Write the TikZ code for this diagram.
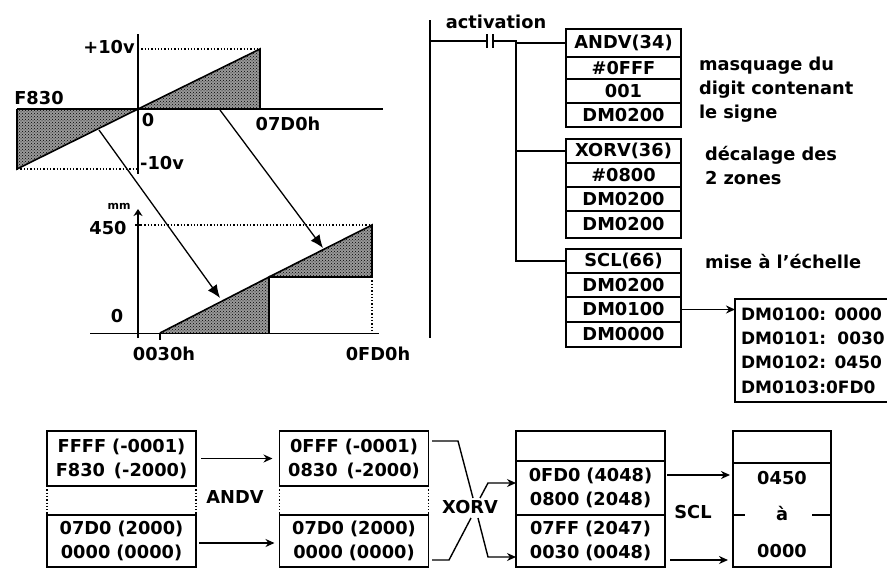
\documentclass[tikz,border=0pt]{standalone}
\usepackage{fontspec}
\setmainfont{DejaVu Sans}
\usepackage{tikz}
\usetikzlibrary{arrows.meta, positioning, patterns}
\newcommand{\nudge}{\hspace*{18pt}}

\begin{document}
\begin{tikzpicture}[
    x=1pt, y=-1pt,
    every node/.style={font=\fontsize{17.8}{24}\selectfont\bfseries, inner sep=0pt, outer sep=0pt},
    cell/.style={rectangle, draw=black, line width=1.6pt, minimum width=115pt, text width=115pt, text centered},
    widebox/.style={rectangle, draw=black, line width=1.6pt, minimum width=149pt, text width=149pt, text centered},
    axis/.style={line width=1.6pt},
    rail/.style={line width=1.6pt},
    guide/.style={dotted, line width=1.3pt},
    hatch/.style={fill=black!40, postaction={pattern=crosshatch dots, pattern color=black}},
    outline/.style={draw=black, line width=1.6pt},
    thinarrow/.style={-{Stealth[length=9pt, width=8pt]}, line width=1.7pt},
    bigarrow/.style={-{Latex[length=13pt, width=11pt]}, line width=1.3pt},
    wire/.style={line width=1.4pt}
]
\useasboundingbox (0,0) rectangle (887,568);

\coordinate (origin) at (138,109);
\coordinate (peak) at (260,49);
\coordinate (peakbase) at (260,109);
\coordinate (trough) at (17,169);
\coordinate (troughbase) at (17,109);
\coordinate (start) at (160,333);
\coordinate (mid) at (269,277);
\coordinate (midbase) at (269,333);
\coordinate (top) at (372,225);
\coordinate (topbase) at (372,277);
\coordinate (endbase) at (372,333);
\coordinate (srca) at (220,110);
\coordinate (dsta) at (323,248);
\coordinate (srcb) at (99,130);
\coordinate (dstb) at (220,298);

\fill [hatch] (origin) -- (peak) -- (peakbase) -- cycle;
\fill [hatch] (origin) -- (troughbase) -- (trough) -- cycle;
\fill [hatch] (start) -- (mid) -- (midbase) -- cycle;
\fill [hatch] (mid) -- (top) -- (topbase) -- cycle;
\draw [outline] (origin) -- (peak) -- (peakbase);
\draw [outline] (origin) -- (trough) -- (troughbase);
\draw [outline] (start) -- (mid) -- (midbase);
\draw [outline] (mid) -- (top) -- (topbase) -- (mid);

\draw [axis] (138,34) -- (138,174);
\draw [axis] (17,109) -- (383,109);
\draw [guide] (origin |- peak) -- (peak);
\draw [guide] (trough) -- (origin |- trough);
\draw [axis, -{Stealth[length=7pt, width=9pt]}] (138,338) -- (138,209);
\draw [axis] (90,333.5) -- (379,333.5);
\draw [axis] (160,333) -- (160,340);
\draw [axis] (135,225) -- (141,225);
\draw [guide] (141,225) -- (top);
\draw [guide] (topbase) -- (endbase);
\draw [bigarrow] (srca) -- (dsta);
\draw [bigarrow] (srcb) -- (dstb);

\node (plusten) at (109,47) {+10v};
\node (fhex) at (39,98) {F830};
\node (zeroa) at (148,120) {0};
\node (sevenhex) at (288,124) {07D0h};
\node (minusten) at (162,163) {-10v};
\node (mmunit) [font=\fontsize{11}{12}\selectfont\bfseries] at (119,206) {mm};
\node (fourfifty) at (108,228) {450};
\node (zerob) at (117,316) {0};
\node (lowhex) at (164,354) {0030h};
\node (highhex) at (378,354) {0FD0h};

\node (activ) at (496,22) {activation};

\node (and1) [cell, minimum height=28.5pt] at (623.5,43) {ANDV(34)};
\node (and2) [cell, minimum height=22pt, below=0pt of and1] {\#0FFF\hspace*{6pt}};
\node (and3) [cell, minimum height=23.5pt, below=0pt of and2] {001\nudge};
\node (and4) [cell, minimum height=24pt, below=0pt of and3] {DM0200\nudge};

\node (xor1) [cell, minimum height=24pt] at (623.5,151) {XORV(36)};
\node (xor2) [cell, minimum height=24pt, below=0pt of xor1] {\#0800\hspace*{10pt}};
\node (xor3) [cell, minimum height=24pt, below=0pt of xor2] {DM0200\nudge};
\node (xor4) [cell, minimum height=27pt, below=0pt of xor3] {DM0200\nudge};

\node (scl1) [cell, minimum height=24pt] at (623.5,261) {SCL(66)};
\node (scl2) [cell, minimum height=24pt, below=0pt of scl1] {DM0200};
\node (scl3) [cell, minimum height=25pt, below=0pt of scl2] {DM0100};
\node (scl4) [cell, minimum height=25pt, below=0pt of scl3] {DM0000};

\node (maskdesc) [anchor=west, align=left] at (699,90) {masquage du\\digit contenant\\le signe};
\node (shiftdesc) [anchor=west, align=left] at (705,166) {décalage des\\2 zones};
\node (scaledesc) [anchor=west] at (705,262) {mise à l'échelle};

\node (dmlist) [rectangle, anchor=north west, minimum height=103pt, text width=152pt, align=left, font=\fontsize{17}{24.4}\selectfont\bfseries] at (735,299) {\hspace*{6pt}DM0100: 0000\\\hspace*{6pt}DM0101: \,0030\\\hspace*{6pt}DM0102: 0450\\\hspace*{6pt}DM0103:0FD0};
\draw [rail] (dmlist.north east) -- (dmlist.north west) -- (dmlist.south west) -- (dmlist.south east);

\coordinate (railtop) at (430,20);
\coordinate (railend) at (430,338);
\coordinate (contacta) at (487,41);
\coordinate (contactb) at (493,41);
\coordinate (branch) at (516,41);
\draw [rail] (railtop) -- (railend);
\draw [rail] (railtop |- contacta) -- (contacta);
\draw [rail] (487,34) -- (487,48);
\draw [rail] (493,34) -- (493,48);
\draw [rail] (contactb) -- (branch) -- (branch |- and1.west) -- (and1.west);
\draw [rail] (branch) |- (xor1.west);
\draw [rail] (branch) |- (scl1.west);
\draw [thinarrow] (scl3.east) -- (scl3.east -| dmlist.west);

\node (atop) [widebox, minimum height=55pt] at (121.5,458.5) {FFFF (-0001)\\F830 \,(-2000)};
\node (alow) [widebox, minimum height=52pt] at (121.5,541) {07D0 (2000)\\0000 (0000)};
\node (btop) [widebox, minimum height=55pt] at (354,458.5) {0FFF (-0001)\\0830 \,(-2000)};
\node (blow) [widebox, minimum height=52pt] at (354,541) {07D0 (2000)\\0000 (0000)};
\node (chead) [widebox, minimum height=30pt] at (590.5,446) {};
\node (ctop) [widebox, minimum height=54pt, below=0pt of chead] {0FD0 (4048)\\0800 (2048)};
\node (clow) [widebox, minimum height=52pt, below=0pt of ctop] {07FF (2047)\\0030 (0048)};
\node (dhead) [rectangle, draw=black, line width=1.6pt, minimum width=98pt, minimum height=32pt] at (782,447) {};
\node (dlow) [rectangle, draw=black, line width=1.6pt, minimum width=98pt, minimum height=104pt, text width=98pt, text centered, below=0pt of dhead] {0450\\[12pt]à\\[13pt]0000};

\node (andlabel) at (235,497) {ANDV};
\node (xorlabel) at (470,507) {XORV};
\node (scllabel) at (693,512) {SCL};

\draw [guide] (atop.south west) -- (alow.north west);
\draw [guide] (atop.south east) -- (alow.north east);
\draw [guide] (btop.south west) -- (blow.north west);
\draw [guide] (btop.south east) -- (blow.north east);
\draw [rail] (dlow.west) -- ++(12,0);
\draw [rail] (dlow.east) -- ++(-19,0);

\draw [thinarrow] ([xshift=5pt]atop.east) -- ([xshift=-7pt]btop.west);
\draw [thinarrow] ([xshift=3pt, yshift=-2pt]alow.east) -- ([xshift=-5pt, yshift=-2pt]blow.west);
\draw [thinarrow] ([yshift=13pt, xshift=2pt]ctop.east) -- ([yshift=13pt, xshift=-3pt]ctop.east -| dlow.west);
\draw [thinarrow] ([yshift=-19pt, xshift=5pt]clow.east) -- ([yshift=-19pt, xshift=-5pt]clow.east -| dlow.west);

\coordinate (xa) at (432,441);
\coordinate (xb) at (458,441);
\coordinate (xc) at (473,498);
\coordinate (xd) at (478,518);
\coordinate (xe) at (488,557);
\coordinate (xf) at (432,560);
\coordinate (xg) at (449,560);
\coordinate (xh) at (471,518);
\coordinate (xi) at (480,498);
\coordinate (xj) at (488,483);
\draw [wire] (xa) -- (xb) -- (xc);
\draw [wire, -{Stealth[length=9pt, width=8pt]}] (xd) -- (xe) -- (xe -| clow.west);
\draw [wire] (xf) -- (xg) -- (xh);
\draw [wire, -{Stealth[length=9pt, width=8pt]}] (xi) -- (xj) -- (xj -| ctop.west);
\end{tikzpicture}
\end{document}
